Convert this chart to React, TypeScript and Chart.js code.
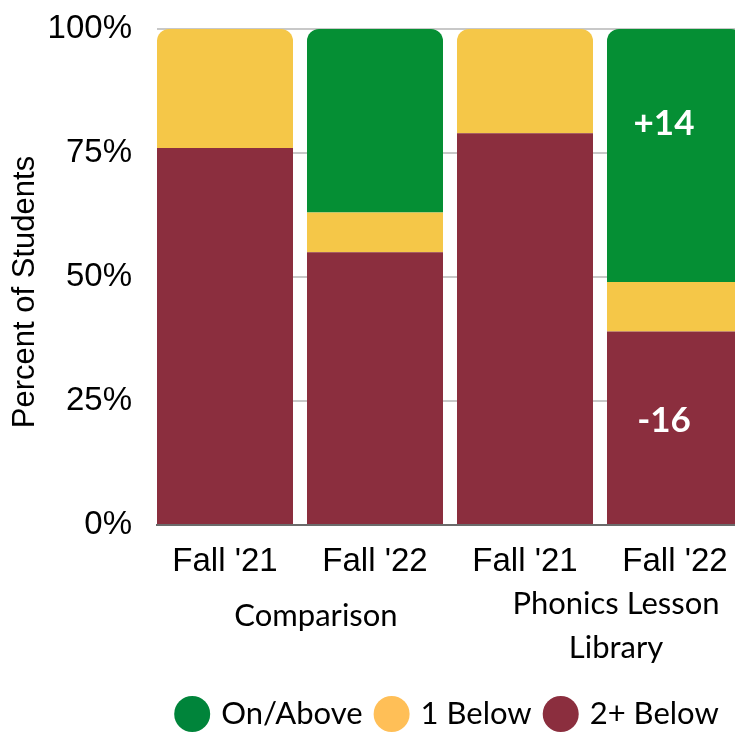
import React, { useEffect, useRef } from "react";
import { Chart, registerables } from "chart.js";

Chart.register(...registerables);

const categories = ["Fall '21", "Fall '22", "Fall '21", "Fall '22"];
const groupNames = [["Comparison"], ["Phonics Lesson", "Library"]];
const groupMembers = [
  [0, 1],
  [2, 3],
];
const twoPlusBelow = [76, 55, 79, 39];
const oneBelow = [24, 8, 21, 10];
const onAbove = [0, 37, 0, 51];
const yTicks = [0, 25, 50, 75, 100];
const yTitle = "Percent of Students";
const annotationTexts = ["+14", "-16"];
const annotationBars = [3, 3];
const annotationValues = [81, 21];
const seriesNames = ["2+ Below", "1 Below", "On/Above"];
const seriesValues = [twoPlusBelow, oneBelow, onAbove];
const barColors = ["#8B2E3E", "#F5C748", "#058F34"];
const legendColors = ["#8B2E3E", "#FFBF57", "#00843A"];

const GEO = "Lato, 'Noto Sans', sans-serif";
const SANS = "'Liberation Sans', Arial, sans-serif";

const overlayPlugin = {
  id: "overlay",
  afterDatasetsDraw(chart: any) {
    const ctx = chart.ctx;
    const xs = chart.scales.x;
    const ys = chart.scales.y;
    ctx.save();
    ctx.fillStyle = "#FFFFFF";
    ctx.font = `bold 35px ${GEO}`;
    ctx.textAlign = "center";
    ctx.textBaseline = "middle";
    annotationTexts.forEach((t, i) => {
      const x = xs.getPixelForValue(annotationBars[i]) - 11;
      const y = ys.getPixelForValue(annotationValues[i]);
      ctx.fillText(t, x, y);
    });
    ctx.restore();
  },
  afterDraw(chart: any) {
    const ctx = chart.ctx;
    const xs = chart.scales.x;
    const area = chart.chartArea;
    ctx.save();
    // y-axis title
    ctx.save();
    ctx.translate(25, (area.top + area.bottom) / 2 + 15);
    ctx.rotate(-Math.PI / 2);
    ctx.fillStyle = "#000000";
    ctx.font = `31px ${SANS}`;
    ctx.textAlign = "center";
    ctx.textBaseline = "middle";
    ctx.fillText(yTitle, 0, 0);
    ctx.restore();
    // group labels
    ctx.fillStyle = "#000000";
    ctx.font = `31px ${GEO}`;
    ctx.textAlign = "center";
    ctx.textBaseline = "middle";
    groupNames.forEach((lines, gi) => {
      const mem = groupMembers[gi];
      const cx =
        (xs.getPixelForValue(mem[0]) + xs.getPixelForValue(mem[mem.length - 1])) / 2 + 16;
      const startY = area.bottom + (lines.length === 1 ? 91 : 79);
      lines.forEach((ln, li) => {
        ctx.fillText(ln, cx, startY + li * 44);
      });
    });
    // legend
    const order = [2, 1, 0];
    const r = 18;
    const gapText = 11;
    const gapItem = 11;
    const widths = order.map((i) => ctx.measureText(seriesNames[i]).width);
    let total = 0;
    widths.forEach((w, k) => {
      total += 2 * r + gapText + w + (k < widths.length - 1 ? gapItem : 0);
    });
    let x = (area.left + area.right) / 2 - 7 - total / 2;
    const ly = 714;
    ctx.textAlign = "left";
    order.forEach((i, k) => {
      ctx.beginPath();
      ctx.fillStyle = legendColors[i];
      ctx.arc(x + r, ly, r, 0, Math.PI * 2);
      ctx.fill();
      ctx.fillStyle = "#000000";
      ctx.fillText(seriesNames[i], x + 2 * r + gapText, ly);
      x += 2 * r + gapText + widths[k] + gapItem;
    });
    ctx.restore();
  },
};

function topIndex(dataIndex: number) {
  let top = -1;
  seriesValues.forEach((vals, di) => {
    if (vals[dataIndex] > 0) top = di;
  });
  return top;
}

export default function App() {
  const ref = useRef<HTMLCanvasElement | null>(null);

  useEffect(() => {
    if (!ref.current) return;
    const chart = new Chart(ref.current, {
      type: "bar",
      data: {
        datasets: seriesNames.map((name, di) => ({
          label: name,
          data: seriesValues[di].map((v, i) => ({ x: i, y: v })),
          backgroundColor: barColors[di],
          borderWidth: 0,
          borderRadius: (c: any) =>
            topIndex(c.dataIndex) === c.datasetIndex
              ? { topLeft: 12, topRight: 12, bottomLeft: 0, bottomRight: 0 }
              : 0,
          borderSkipped: "start",
          barPercentage: 136 / 150,
          categoryPercentage: 1,
        })),
      },
      options: {
        responsive: false,
        animation: false,
        events: [],
        layout: { padding: { top: 29, right: 10, left: 0, bottom: 0 } },
        plugins: {
          legend: { display: false },
          tooltip: { enabled: false },
        },
        scales: {
          x: {
            type: "linear",
            stacked: true,
            min: -0.4533,
            max: 3.5,
            offset: false,
            grid: { display: false },
            border: { display: true, color: "#6B6B6B", width: 2 },
            afterBuildTicks: (s: any) => {
              s.ticks = categories.map((_, i) => ({ value: i }));
            },
            afterFit: (s: any) => {
              s.height = 208;
            },
            ticks: {
              autoSkip: false,
              maxRotation: 0,
              minRotation: 0,
              padding: 9,
              color: "#000000",
              font: { family: SANS, size: 33 },
              callback: (v: any) => categories[v] ?? "",
            },
          },
          y: {
            stacked: true,
            min: 0,
            max: 100,
            afterBuildTicks: (s: any) => {
              s.ticks = yTicks.map((v) => ({ value: v }));
            },
            afterFit: (s: any) => {
              s.width = 157;
            },
            grid: {
              color: "#C8C8C8",
              lineWidth: 2,
              drawTicks: true,
              tickLength: 25,
              tickColor: "rgba(0,0,0,0)",
            },
            border: { display: false },
            ticks: {
              padding: 0,
              color: "#000000",
              font: { family: SANS, size: 33 },
              callback: (v: any) => `${v}%`,
            },
            title: { display: false },
          },
        },
      },
      plugins: [overlayPlugin],
    });
    return () => chart.destroy();
  }, []);

  return (
    <div
      style={{
        position: "fixed",
        left: 0,
        top: 0,
        width: 735,
        height: 733,
        overflow: "hidden",
        background: "#FFFFFF",
      }}
    >
      <canvas ref={ref} width={760} height={733} style={{ display: "block" }} />
    </div>
  );
}
